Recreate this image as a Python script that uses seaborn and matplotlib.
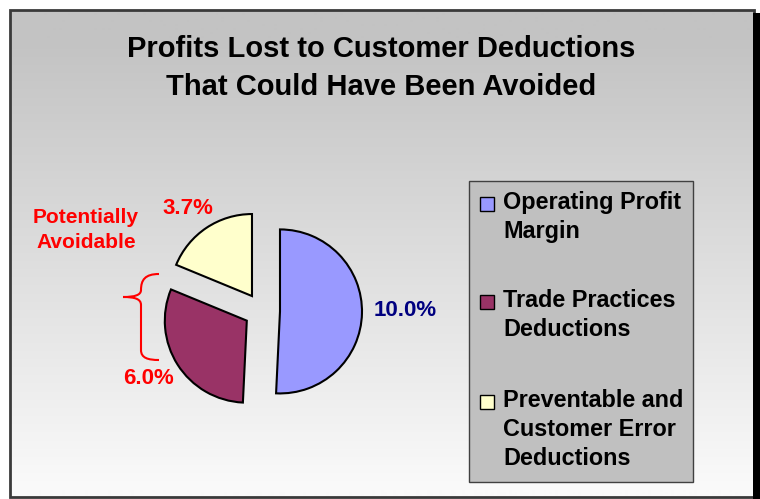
import numpy as np
import matplotlib
matplotlib.use("Agg")
import matplotlib.pyplot as plt
import seaborn as sns
from matplotlib.patches import Rectangle, PathPatch
from matplotlib.path import Path

# data
categories = ["Operating Profit\nMargin", "Trade Practices\nDeductions",
              "Preventable and\nCustomer Error\nDeductions"]
values = [10.0, 6.0, 3.7]
label_colors = ["#000080", "#ff0000", "#ff0000"]
title = "Profits Lost to Customer Deductions\nThat Could Have Been Avoided"

sns.set_style("white")
plt.rcParams['font.family'] = ['Liberation Sans', 'DejaVu Sans']
plt.rcParams['text.color'] = 'black'
colors = sns.color_palette(["#9999ff", "#993366", "#ffffcc"])

W, H = 760, 499


def Y(y):
    # pixel row -> axes y (y up)
    return H - y


fig = plt.figure(figsize=(7.6, 4.99), dpi=100)
ax = fig.add_axes([0, 0, 1, 1])

# background gradient inside the frame
rows = np.arange(10, 498)
shade = np.where(rows < 40, 195, 195 + (rows - 40) / (490 - 40) * 55)
shade = np.clip(shade, 0, 250) / 255.0
grad = np.repeat(shade[:, None], 3, axis=1)[:, None, :]
ax.imshow(grad, extent=(10, 753, Y(497), Y(10)), aspect='auto', zorder=0,
          interpolation='bilinear')
ax.add_patch(Rectangle((10, Y(497)), 744, 487, facecolor='none',
                       edgecolor='#3a3a3a', lw=2, zorder=2))
ax.add_patch(Rectangle((753, Y(499)), 7, 499 - 13, facecolor='black',
                       edgecolor='none', zorder=2.5))

# pie
wedges, _ = ax.pie(values, colors=colors, startangle=90, counterclock=False,
                   explode=[18] * 3, center=(262, Y(311)), radius=82,
                   wedgeprops=dict(edgecolor='black', linewidth=1.5), frame=True)
for w in wedges:
    w.set_zorder(3)

ax.set_xlim(0, W)
ax.set_ylim(0, H)
ax.set_aspect('auto')
ax.axis('off')

# value labels
label_pos = [(405, 310), (149, 378), (188, 208)]
for v, (x, y), c in zip(values, label_pos, label_colors):
    ax.text(x, Y(y), f"{v:.1f}%", color=c, fontsize=16, fontweight='bold',
            ha='center', va='center', zorder=4)

ax.text(86, Y(230), "Potentially\nAvoidable", color='#ff0000', fontsize=15,
        fontweight='bold', ha='center', va='center', linespacing=1.35, zorder=4)

# curly brace
verts = [(159, 274), (145, 274), (141, 280), (141, 290),
         (141, 295), (135, 297), (123, 297),
         (135, 297), (141, 299), (141, 305),
         (141, 350),
         (141, 358), (148, 360), (159, 360)]
codes = [Path.MOVETO, Path.CURVE4, Path.CURVE4, Path.CURVE4,
         Path.CURVE4, Path.CURVE4, Path.CURVE4,
         Path.CURVE4, Path.CURVE4, Path.CURVE4,
         Path.LINETO,
         Path.CURVE4, Path.CURVE4, Path.CURVE4]
brace = Path([(x, Y(y)) for x, y in verts], codes)
ax.add_patch(PathPatch(brace, facecolor='none', edgecolor='#ff0000', lw=1.5,
                       zorder=4))

# title
for i, line in enumerate(title.split("\n")):
    ax.text(381, Y(57 + 38 * i), line, fontsize=21, fontweight='bold',
            color='black', ha='center', va='baseline', zorder=4)

# legend box drawn by hand
ax.add_patch(Rectangle((469, Y(482)), 224, 301, facecolor='#c0c0c0',
                       edgecolor='#404040', lw=1, zorder=3))
first_base = [209, 307, 407]
for cat, col, yb in zip(categories, colors, first_base):
    ax.add_patch(Rectangle((480, Y(yb + 2)), 14, 14, facecolor=col,
                           edgecolor='black', lw=1, zorder=4))
    for j, line in enumerate(cat.split("\n")):
        ax.text(503, Y(yb + 29 * j), line, fontsize=16.8, fontweight='bold',
                color='black', ha='left', va='baseline', zorder=4)

fig.savefig("out.png", dpi=100, facecolor='white')
